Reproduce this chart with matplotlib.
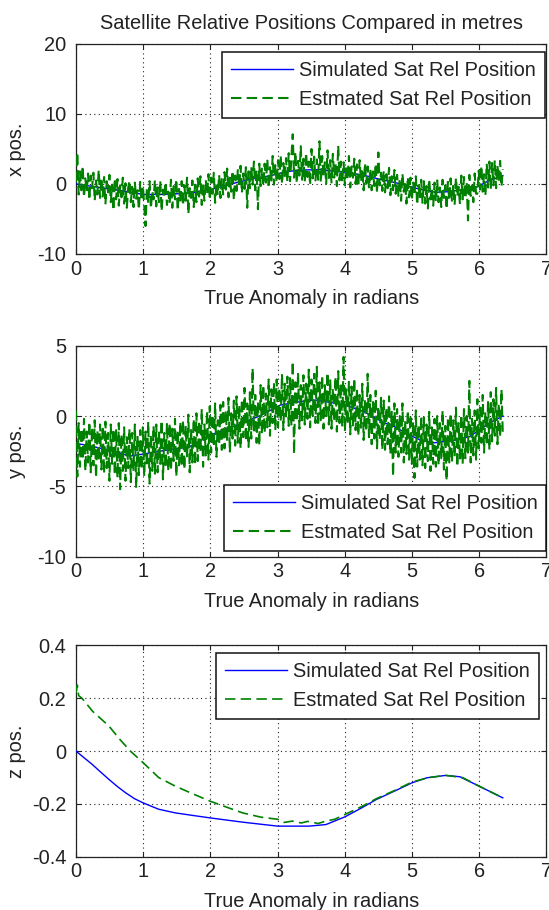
import numpy as np
import matplotlib.pyplot as plt

plt.rcParams["font.family"] = ["Liberation Sans", "DejaVu Sans"]
plt.rcParams["axes.unicode_minus"] = False

TITLE = "Satellite Relative Positions Compared in metres"
XLABEL = "True Anomaly in radians"
LABEL_SIM = "Simulated Sat Rel Position"
LABEL_EST = "Estmated Sat Rel Position"

# ---- x position (metres) ----
x_sim_t = [0, 0.35, 0.7, 1.0, 1.3, 1.7, 2.0, 2.35, 2.6, 2.9, 3.15, 3.4, 3.65,
           3.85, 4.05, 4.3, 4.55, 4.75, 5.05, 5.35, 5.55, 5.75, 5.95, 6.15, 6.35]
x_sim = [0, -0.5, -1.0, -1.5, -1.5, -1.3, -0.8, 0.1, 0.7, 1.2, 1.8, 2.0, 2.05,
         1.8, 1.6, 1.2, 0.6, 0.2, -0.6, -1.2, -1.1, -0.8, -0.5, 0.5, 1.2]
x_est = [
    0.3, 4.5, -1.5, 1.8, -0.9, 2.6, -1.9, 0.8, -1.2, 1.5,
    -2.3, 1.2, -0.6, 1.6, -2.4, 0.5, -1.5, 2.0, -2.0, 0.9,
    -1.8, 1.0, -2.9, 0.4, -1.2, 1.3, -2.6, -0.1, -3.8, 0.8,
    -2.2, 0.7, -3.1, -0.2, -1.9, 0.9, -2.8, 0.1, -3.4, -0.6,
    0.5, -2.6, -0.4, -3.3, 0.2, -2.1, -0.9, -3.7, 0.3, -2.4,
    -0.3, -3.0, -6.0, -0.6, -2.7, 0.4, -3.5, -1.0, -2.2, 0.6,
    -3.2, -0.5, -2.6, 0.5, -3.9, -0.8, -2.0, 0.3, -3.0, -1.1,
    -2.8, 0.6, -3.4, -0.3, -2.2, 0.7, -3.8, -0.7, -2.5, 0.4,
    -3.1, -0.2, -2.4, 0.9, -4.3, -0.6, -2.0, 0.5, -3.3, -0.1,
    -2.6, 0.8, -1.8, 1.1, -3.0, -0.2, -2.4, 0.6, -1.5, 1.4,
    -2.3, 0.9, -1.4, 1.6, -2.7, 0.2, -1.6, 1.3, -2.0, 0.7,
    -1.5, 1.7, -0.8, 2.2, -1.9, 0.9, -1.1, 1.9, -2.3, 1.2,
    -1.0, 2.1, -0.5, 2.6, -1.3, 1.5, -0.7, 2.4, -3.4, 1.8,
    -0.6, 2.5, -0.1, 3.2, -0.9, 2.0, -3.6, 2.9, -0.3, 2.2,
    -0.3, 2.9, 0.2, 3.6, -0.6, 2.4, 0.5, 4.0, -0.1, 2.7,
    0.2, 3.4, 0.7, 4.1, 0.0, 3.0, 1.0, 3.7, 0.3, 4.4,
    0.4, 3.8, 7.1, 0.9, 4.6, 0.1, 3.3, 1.2, 5.4, 0.6,
    3.6, 0.3, 4.5, 1.0, 3.2, -0.2, 5.0, 0.8, 3.9, 0.5,
    3.5, 0.6, 6.1, 0.2, 4.0, 1.1, 3.1, 0.0, 4.8, 0.7,
    3.4, 0.1, 4.3, 0.9, 2.9, -0.3, 5.5, 0.5, 3.2, 0.2,
    3.1, -0.2, 2.7, 0.6, 4.0, -0.5, 2.5, 0.9, 3.6, 0.0,
    2.8, -0.4, 3.4, 0.3, 2.2, -0.9, 3.0, 0.1, 2.5, -0.6,
    2.2, -0.9, 1.8, -0.3, 2.9, -1.3, 4.5, -0.2, 1.6, -1.0,
    1.9, -1.2, 1.4, -0.6, 2.3, -1.6, 1.1, -0.9, 2.0, -1.4,
    1.3, -1.7, 0.8, -2.4, 1.5, -1.1, 0.4, -2.8, 1.0, -1.9,
    0.9, -2.3, 0.2, -1.6, 1.1, -3.0, -0.2, -2.1, 0.6, -2.7,
    0.4, -2.8, -0.3, -3.5, 0.7, -2.2, -0.6, -3.1, 0.2, -2.5,
    0.5, -2.6, -0.5, -3.3, 0.6, -2.0, -0.2, -3.6, 0.3, -2.4,
    0.8, -2.4, -0.1, -3.0, 0.9, -1.8, -0.4, -2.9, 1.2, -2.2,
    1.0, -2.1, 0.3, -5.2, 1.3, -1.7, -0.2, -2.6, 1.5, -1.4,
    -1.4, 1.9, -0.8, 2.6, -1.1, 1.4, -1.7, 2.9, -0.5, 3.2,
    -0.8, 3.0, -0.2, 3.4, -0.6, 2.7, 0.4, 3.3, -0.4, 2.1,
]

# ---- y position (metres) ----
y_sim_t = [0, 0.22, 0.59, 0.8, 1.06, 1.37, 1.68, 2.0, 2.2, 2.52, 2.73, 3.04, 3.3,
           3.56, 3.87, 4.08, 4.29, 4.55, 4.76, 4.91, 5.12, 5.33, 5.65, 5.85, 6.0,
           6.14, 6.35]
y_sim = [-1.94, -2.13, -2.53, -2.85, -2.65, -2.4, -2.2, -1.35, -1.0, -0.4, 0.0,
         0.78, 1.0, 1.14, 0.9, 0.66, 0.3, -0.4, -0.8, -1.23, -1.7, -1.9, -1.7,
         -1.47, -1.0, -0.52, 0.0]
y_est = [
    0.4, -4.3, -0.5, -3.6, -0.9, -3.1, -0.2, -3.9, -1.1, -3.3,
    -0.4, -4.0, -0.8, -3.5, -0.3, -4.4, -1.0, -3.2, -0.6, -3.8,
    -0.7, -4.1, -0.4, -3.7, -1.2, -4.6, -0.6, -3.4, -0.9, -4.2,
    -1.0, -4.4, -0.5, -5.2, -1.3, -3.9, -0.8, -4.6, -1.5, -3.7,
    -0.9, -4.7, -1.2, -3.9, -0.6, -5.1, -1.4, -4.2, -1.0, -3.8,
    -0.8, -4.3, -1.1, -3.6, -0.4, -4.8, -1.3, -3.9, -0.7, -4.1,
    -0.6, -4.0, -1.0, -3.4, -0.3, -4.5, -1.2, -3.7, -0.5, -3.9,
    -0.5, -3.9, -0.9, -3.2, -0.2, -4.3, -1.0, -3.5, -0.4, -3.6,
    -0.3, -3.8, -0.7, -3.0, 0.1, -4.0, -0.9, -3.3, -0.2, -3.5,
    0.2, -3.2, -0.3, -2.6, 0.5, -3.6, -0.6, -2.8, 0.4, -3.1,
    0.7, -2.6, 0.1, -2.2, 0.9, -2.9, -0.3, -2.0, 0.8, -2.4,
    1.0, -2.3, 0.4, -1.8, 1.3, -2.6, 0.2, -1.6, 1.1, -2.1,
    1.4, -1.9, 0.8, -2.3, 1.2, -1.5, 2.0, -1.8, 0.9, -2.2,
    1.7, -1.6, 3.4, -1.1, 1.5, -1.9, 1.0, -2.1, 2.2, -1.3,
    2.2, -1.2, 1.6, -0.8, 2.6, -1.4, 1.9, -0.5, 2.4, -1.0,
    2.6, -0.8, 2.0, -0.4, 3.0, -1.0, 2.3, -0.2, 2.8, -0.7,
    2.7, -0.7, 3.9, -2.7, 2.4, -0.4, 3.1, -0.9, 2.2, -0.3,
    2.9, -0.6, 2.3, -0.2, 3.3, -0.8, 2.6, 0.0, 3.0, -0.5,
    3.5, -0.7, 2.4, -0.3, 2.9, -0.9, 2.2, 0.0, 3.1, -0.6,
    2.6, -0.9, 2.0, -0.4, 2.8, -1.1, 3.2, -0.5, 2.3, -0.8,
    4.2, -1.1, 1.9, -0.6, 2.5, -1.3, 2.1, -0.8, 2.7, -1.0,
    2.0, -1.4, 1.5, -0.9, 2.3, -1.7, 1.2, -1.1, 3.0, -1.5,
    1.5, -2.0, 1.0, -1.6, 1.8, -2.3, 0.7, -1.7, 1.3, -2.4,
    1.1, -2.4, 0.6, -2.0, 1.4, -2.7, 0.3, -4.3, 0.9, -2.6,
    0.5, -2.9, 0.0, -2.6, 0.9, -3.3, -0.3, -2.7, 0.4, -3.1,
    0.1, -3.4, -0.4, -4.4, 0.4, -3.6, -0.6, -3.1, 0.0, -3.5,
    -0.1, -3.7, -0.6, -3.2, 0.3, -3.9, -0.8, -3.4, -0.2, -3.6,
    0.0, -3.5, -0.5, -3.0, 0.4, -3.8, -0.7, -4.6, -0.1, -3.3,
    0.2, -3.3, -0.3, -2.9, 0.6, -3.6, -0.5, -3.1, 0.1, -3.4,
    0.5, -3.0, 0.0, -2.6, 2.5, -3.3, -0.2, -2.8, 0.4, -3.1,
    1.2, -2.3, 0.6, -1.9, 1.5, -2.6, 0.3, -2.1, 1.0, -2.4,
    1.7, -1.8, 1.2, -1.4, 2.0, -2.0, 0.9, -1.5, 1.9, -1.2,
]

# ---- z position (metres) ----
z_sim_t = [0, 0.12, 0.24, 0.37, 0.49, 0.62, 0.74, 0.87, 1.0, 1.23, 1.48, 1.75,
           2.0, 2.48, 3.0, 3.47, 3.72, 4.0, 4.25, 4.47, 4.75, 5.0, 5.22, 5.5,
           5.71, 6.0, 6.35]
z_sim = [0, -0.025, -0.05, -0.08, -0.107, -0.135, -0.158, -0.18, -0.196, -0.22,
         -0.234, -0.244, -0.253, -0.269, -0.284, -0.284, -0.278, -0.249, -0.215,
         -0.183, -0.15, -0.12, -0.101, -0.092, -0.097, -0.133, -0.177]
z_est_t = [0, 0.02, 0.04, 0.09, 0.25, 0.49, 0.65, 0.81, 1.0, 1.23, 1.48, 1.75,
           2.0, 2.25, 2.48, 2.75, 3.0, 3.1, 3.22, 3.35, 3.45, 3.6, 3.72, 3.85,
           4.0, 4.25, 4.47, 4.75, 5.0, 5.25, 5.5, 5.75, 6.0, 6.2, 6.35]
z_est = [0.22, 0.25, 0.21, 0.20, 0.15, 0.095, 0.045, 0.0, -0.044, -0.1, -0.133,
         -0.163, -0.19, -0.213, -0.234, -0.25, -0.258, -0.27, -0.265, -0.272,
         -0.266, -0.274, -0.265, -0.258, -0.24, -0.21, -0.18, -0.148, -0.117,
         -0.1, -0.092, -0.1, -0.133, -0.158, -0.177]

# noisy estimates are sampled on an even anomaly grid
t_noisy = np.linspace(0, 6.35, len(x_est))

x_ticks = [0, 1, 2, 3, 4, 5, 6, 7]

panels = [
    dict(sim_t=x_sim_t, sim=x_sim, est_t=t_noisy, est=x_est, ylabel="x pos.",
         ylim=(-10, 20), yticks=[-10, 0, 10, 20],
         yticklabels=["-10", "0", "10", "20"], est_lw=1.5,
         rect=[0.1384, 0.7209, 0.857, 0.2308],
         leg=dict(loc="upper right", bbox_to_anchor=(0.997, 0.963))),
    dict(sim_t=y_sim_t, sim=y_sim, est_t=t_noisy, est=y_est, ylabel="y pos.",
         ylim=(-10, 5), yticks=[-10, -5, 0, 5],
         yticklabels=["-10", "-5", "0", "5"], est_lw=1.5,
         rect=[0.1384, 0.3882, 0.857, 0.2319],
         leg=dict(loc="lower right", bbox_to_anchor=(1.0, 0.027))),
    dict(sim_t=z_sim_t, sim=z_sim, est_t=z_est_t, est=z_est, ylabel="z pos.",
         ylim=(-0.4, 0.4), yticks=[-0.4, -0.2, 0, 0.2, 0.4],
         yticklabels=["-0.4", "-0.2", "0", "0.2", "0.4"], est_lw=1.2,
         rect=[0.1384, 0.0585, 0.857, 0.2322],
         leg=dict(loc="upper right", bbox_to_anchor=(0.9845, 0.963))),
]

FS = 14.4
TXT = "#222222"

fig = plt.figure(figsize=(5.49, 9.10), dpi=100, facecolor="white")

for i, p in enumerate(panels):
    ax = fig.add_axes(p["rect"])
    lw = p["est_lw"]
    ax.plot(p["sim_t"], p["sim"], color="#0000ff", lw=1.0, label=LABEL_SIM, zorder=3)
    # keep the dash pattern about 7.5pt on / 3.8pt off whatever the width
    ax.plot(p["est_t"], p["est"], color="#008000", lw=lw,
            dashes=(7.5 / lw, 3.8 / lw), label=LABEL_EST, zorder=4)

    ax.set_xlim(0, 7)
    ax.set_ylim(*p["ylim"])
    ax.set_xticks(x_ticks)
    ax.set_xticklabels([str(v) for v in x_ticks])
    ax.set_yticks(p["yticks"])
    ax.set_yticklabels(p["yticklabels"])

    ax.grid(True, color="#222222", linestyle=(0, (1, 3)), linewidth=0.8)
    ax.set_axisbelow(True)
    ax.tick_params(direction="in", length=3.5, width=0.8, top=True, right=True,
                   labelsize=FS, labelcolor=TXT, color="#222222")
    ax.tick_params(axis="x", pad=4)
    ax.tick_params(axis="y", pad=7)
    for s in ax.spines.values():
        s.set_color("#222222")
        s.set_linewidth(0.9)

    ax.set_xlabel(XLABEL, fontsize=FS, color=TXT)
    ax.xaxis.set_label_coords(0.5, -0.165)
    ax.set_ylabel(p["ylabel"], fontsize=FS, color=TXT)
    ax.yaxis.set_label_coords(-0.106, 0.5)

    leg = ax.legend(fontsize=FS, frameon=True, fancybox=False, framealpha=1,
                    edgecolor="#111111", borderaxespad=0, borderpad=0.45,
                    labelspacing=0.5, handlelength=3.1, handletextpad=0.3,
                    **p["leg"])
    leg.get_frame().set_linewidth(1.1)
    for t in leg.get_texts():
        t.set_color(TXT)

    if i == 0:
        ax.set_title(TITLE, fontsize=FS, color=TXT, pad=11)

fig.savefig("out.png", dpi=100, facecolor="white")
